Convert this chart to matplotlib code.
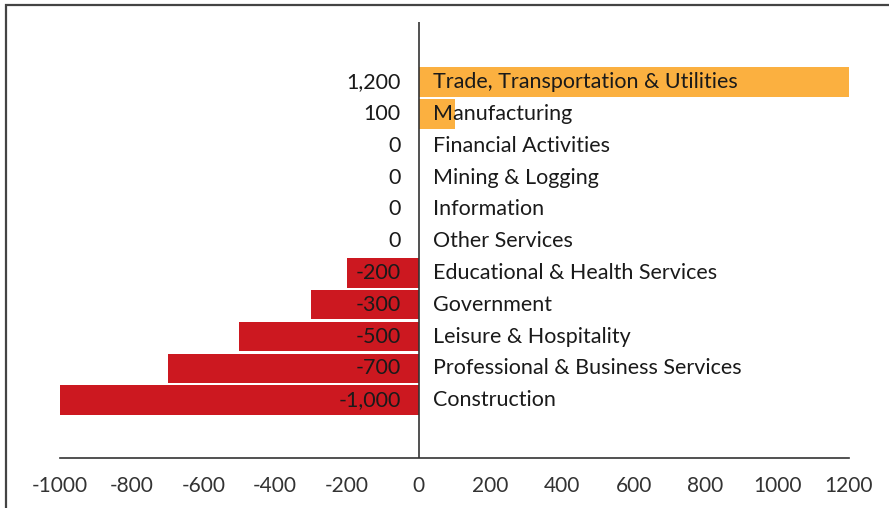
import matplotlib
matplotlib.use("Agg")
import matplotlib.pyplot as plt
from matplotlib.patches import Rectangle
import numpy as np

categories = ["Trade, Transportation & Utilities", "Manufacturing", "Financial Activities",
              "Mining & Logging", "Information", "Other Services",
              "Educational & Health Services", "Government", "Leisure & Hospitality",
              "Professional & Business Services", "Construction"]
values = [1200, 100, 0, 0, 0, 0, -200, -300, -500, -700, -1000]
value_labels = ["1,200", "100", "0", "0", "0", "0", "-200", "-300", "-500", "-700", "-1,000"]
xticks = [-1000, -800, -600, -400, -200, 0, 200, 400, 600, 800, 1000, 1200]

plt.rcParams['font.family'] = ['Lato', 'DejaVu Sans']

W, H = 889, 508
fig = plt.figure(figsize=(W/100, H/100), dpi=100)
fig.patch.set_facecolor("white")
fig.add_artist(Rectangle((6/W, -0.1), 1.0, (H-5)/H + 0.1, transform=fig.transFigure,
                         fill=False, edgecolor="#444444", linewidth=1.6))

ax = fig.add_axes([60/W, 50/H, (849-60)/W, (458-22)/H])
n = len(categories)
ypos = np.arange(n)[::-1]
colors = ["#FBB040" if v > 0 else "#CC1820" for v in values]
ax.barh(ypos, values, height=0.92, color=colors, zorder=1)

fs = 15.5
for y, v, lab, cat in zip(ypos, values, value_labels, categories):
    ax.text(-50, y, lab, ha="right", va="center", fontsize=fs, color="#1a1a1a", zorder=3)
    ax.text(40, y, cat, ha="left", va="center", fontsize=fs, color="#1a1a1a", zorder=3)

ax.axvline(0, color="#333333", linewidth=1.2, zorder=2)
ax.set_xlim(-1000, 1200)
ax.set_ylim(-1.82, n - 1 + 1.89)
ax.set_xticks(xticks)
ax.set_xticklabels([str(t) for t in xticks], fontsize=15, color="#333333")
ax.tick_params(axis="x", length=0, pad=13)
ax.set_yticks([])
for s in ["top", "right", "left"]:
    ax.spines[s].set_visible(False)
ax.spines["bottom"].set_color("#333333")
ax.spines["bottom"].set_linewidth(1.2)

fig.savefig("out.png", dpi=100)
